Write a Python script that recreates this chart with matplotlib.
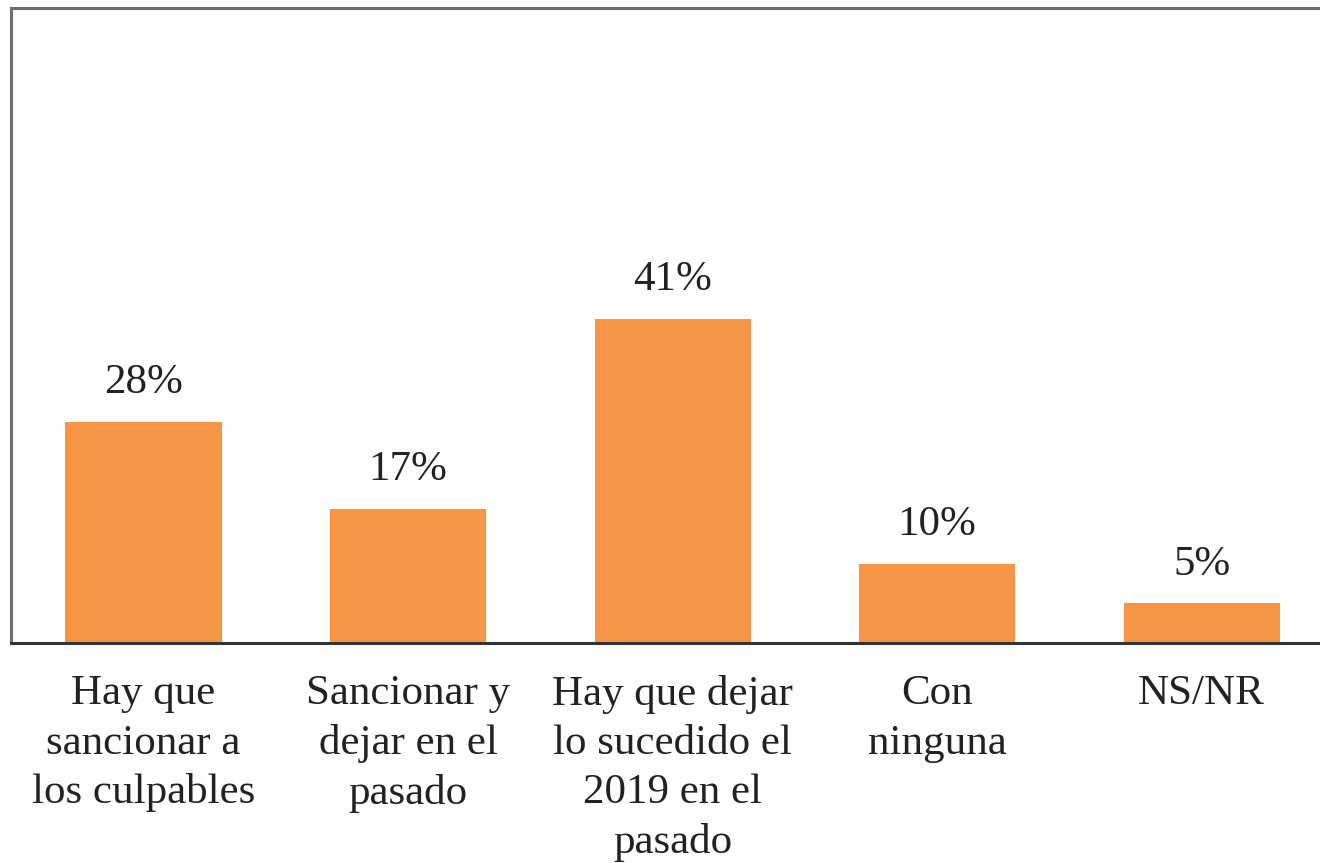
import matplotlib
matplotlib.use("Agg")
import matplotlib.pyplot as plt

categorias = ["Hay que\nsancionar a\nlos culpables",
              "Sancionar y\ndejar en el\npasado",
              "Hay que dejar\nlo sucedido el\n2019 en el\npasado",
              "Con\nninguna",
              "NS/NR"]
valores = [0.28, 0.17, 0.41, 0.10, 0.05]
etiquetas = ["28%", "17%", "41%", "10%", "5%"]

plt.rcParams['font.family'] = ['Liberation Serif', 'DejaVu Serif']

fig = plt.figure(figsize=(13.2, 8.63), dpi=100)
ax = fig.add_axes([0.0085, 0.2549, 1.002, 0.7358])

x = range(len(categorias))
bars = ax.bar(x, valores, width=0.59, color="#F79646")
for b, t in zip(bars, etiquetas):
    ax.annotate(t, (b.get_x() + b.get_width() / 2, b.get_height()),
                xytext=(0, 14), textcoords="offset points",
                ha="center", va="bottom", fontsize=31, color="#222222")

ax.set_xlim(-0.5, len(categorias) - 0.5)
ax.set_ylim(0, 0.803)
ax.set_yticks([])
ax.set_xticks(list(x))
ax.set_xticklabels(categorias, fontsize=31, color="#222222", linespacing=1.36)
ax.tick_params(axis="x", length=0, pad=23)

for s in ["left", "top", "right"]:
    ax.spines[s].set_color("#6e6e6e")
    ax.spines[s].set_linewidth(2.2)
ax.spines["bottom"].set_color("#333333")
ax.spines["bottom"].set_linewidth(2.2)

fig.savefig("out.png", dpi=100)
